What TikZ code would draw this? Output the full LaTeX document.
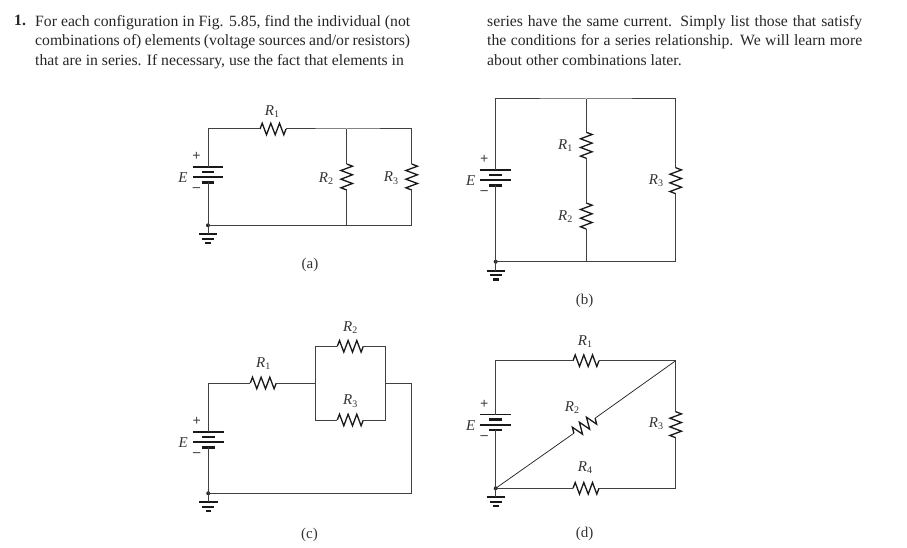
\documentclass[tikz,border=0pt]{standalone}
\usepackage{fontspec}
\setmainfont{Liberation Serif}
\newcommand{\resname}[1]{\textit{R}\raisebox{-2.4pt}{\fontsize{10}{10}\selectfont #1}}

\begin{document}
\begin{tikzpicture}[x=1pt, y=-1pt, inner sep=0pt]
        \tikzset{
            wire/.style={draw=black!75, line width=1pt},
            thinwire/.style={draw=black!85, line width=0.75pt},
            zig/.style={draw=black!90, line width=1.3pt, line join=miter},
            lab/.style={font=\fontsize{15}{17}\selectfont, text=black!80, yshift=-1.3pt},
            sign/.style={font=\fontsize{14.5}{15}\bfseries\selectfont, text=black!75},
            para/.style={anchor=north west, text width=375pt, align=justify, text=black!85,
                font=\fontsize{15.7}{19.6}\selectfont},
            dot/.style={circle, fill=black!85, minimum size=4pt},
            % resistor lying along x, 26 wide
            resistor/.pic={
                \coordinate (-a) at (-13,0);
                \coordinate (-b) at (13,0);
                \draw[zig] (-a) -- (-10.8,-5.8) -- (-6.5,5.8) -- (-2.2,-5.8) -- (2.2,5.8)
                    -- (6.5,-5.8) -- (10.8,5.8) -- (-b);
            },
            % battery, origin at the upper long plate
            battery/.pic={
                \coordinate (-p) at (0,0);
                \coordinate (-n) at (0,15.3);
                \draw[line width=1.5pt, draw=black!90] (-15.3,0) -- (15.3,0) (-15.3,10.2) -- (15.3,10.2);
                \draw[line width=2.5pt, draw=black!90] (-6.4,5) -- (6.4,5) (-6.4,15.3) -- (6.4,15.3);
                \node[sign] (-plus) at (-11.5,-10.3) {+};
                \node[sign] (-minus) at (-11.5,22.8) {--};
                \node[lab] (-emf) at (-25,9.2) {\textit{E}};
            },
            % ground, origin at the wire it hangs on
            earth/.pic={
                \coordinate (-t) at (0,9);
                \node[dot] (-j) at (0,0) {};
                \draw[line width=1.8pt, draw=black!90] (-9.2,9) -- (9.2,9);
                \draw[line width=2pt, draw=black!90] (-6,13.3) -- (6,13.3);
                \draw[line width=2.3pt, draw=black!90] (-2.8,17.7) -- (2.8,17.7);
            }
        }
        \useasboundingbox (0,0) rectangle (907,548);

        % problem text
        \node[font=\fontsize{15.7}{19.6}\bfseries\selectfont, text=black!85, anchor=north west] (num) at (14,15) {1.};
        \node[para] (col_l) at (35,15) {For each configuration in Fig. 5.85, find the individual (not\linebreak
            combinations of) elements (voltage sources and/or resistors)\linebreak
            that are in series. If necessary, use the fact that elements in};
        \node[para] (col_r) at (487,15) {series have the same current. Simply list those that satisfy\linebreak
            the conditions for a series relationship. We will learn more\linebreak
            about other combinations later.};

        % (a)
        \coordinate (a_tl) at (208,129);
        \coordinate (a_t2) at (346.7,129);
        \coordinate (a_t3) at (411.7,129);
        \coordinate (a_b2) at (346.7,225.3);
        \coordinate (a_b3) at (411.7,225.3);
        \pic (B_a) at (208,167) {battery};
        \pic (G_a) at (208,225.3) {earth};
        \pic (R_a1) at (273,129) {resistor};
        \pic[rotate=90] (R_a2) at (346.7,177) {resistor};
        \pic[rotate=90] (R_a3) at (411.7,177) {resistor};
        \draw[wire] (B_a-p) -- (a_tl) -- (R_a1-a);
        \draw[wire] (R_a1-b) -- (a_t2) -- (a_t3) -- (R_a3-b);
        \draw[wire] (a_t2) -- (R_a2-b);
        \draw[wire] (R_a2-a) -- (a_b2);
        \draw[wire] (R_a3-a) -- (a_b3) -- (G_a-j.center) -- (G_a-t);
        \draw[wire] (B_a-n) -- (G_a-j.center);
        \node[lab] (l_a1) at (272,110) {\resname{1}};
        \node[lab] (l_a2) at (326,177) {\resname{2}};
        \node[lab] (l_a3) at (391,177) {\resname{3}};
        \node[lab] (cap_a) at (310,263.5) {(a)};

        % (b)
        \coordinate (b_tl) at (495.7,99);
        \coordinate (b_tm) at (586.3,99);
        \coordinate (b_tr) at (675.7,99);
        \coordinate (b_bm) at (586.3,261.7);
        \coordinate (b_br) at (675.7,261.7);
        \pic (B_b) at (495.7,170) {battery};
        \pic (G_b) at (495.7,261.7) {earth};
        \pic[rotate=90] (R_b1) at (586.3,145.3) {resistor};
        \pic[rotate=90] (R_b2) at (586.3,216) {resistor};
        \pic[rotate=90] (R_b3) at (675.7,180.7) {resistor};
        \draw[wire] (B_b-p) -- (b_tl) -- (b_tm) -- (b_tr) -- (R_b3-b);
        \draw[wire] (b_tm) -- (R_b1-b);
        \draw[wire] (R_b1-a) -- (R_b2-b);
        \draw[wire] (R_b2-a) -- (b_bm);
        \draw[wire] (R_b3-a) -- (b_br) -- (G_b-j.center) -- (G_b-t);
        \draw[wire] (B_b-n) -- (G_b-j.center);
        \node[lab] (l_b1) at (565.3,144.5) {\resname{1}};
        \node[lab] (l_b2) at (565.3,215.5) {\resname{2}};
        \node[lab] (l_b3) at (656,179.5) {\resname{3}};
        \node[lab] (cap_b) at (584.7,300) {(b)};

        % (c)
        \coordinate (c_tl) at (208.3,383);
        \coordinate (c_pl) at (315.3,383);
        \coordinate (c_pr) at (385.3,383);
        \coordinate (c_tr) at (411.7,383);
        \coordinate (c_br) at (411.7,493.3);
        \coordinate (c_2l) at (315.3,346.3);
        \coordinate (c_2r) at (385.3,346.3);
        \coordinate (c_3l) at (315.3,420);
        \coordinate (c_3r) at (385.3,420);
        \pic (B_c) at (208.3,432) {battery};
        \pic (G_c) at (208.3,493.3) {earth};
        \pic (R_c1) at (263.3,383) {resistor};
        \pic (R_c2) at (350.3,346.3) {resistor};
        \pic (R_c3) at (350.3,420) {resistor};
        \draw[wire] (B_c-p) -- (c_tl) -- (R_c1-a);
        \draw[wire] (R_c1-b) -- (c_pl);
        \draw[wire] (R_c2-a) -- (c_2l) -- (c_3l) -- (R_c3-a);
        \draw[wire] (R_c2-b) -- (c_2r) -- (c_3r) -- (R_c3-b);
        \draw[wire] (c_pr) -- (c_tr) -- (c_br) -- (G_c-j.center) -- (G_c-t);
        \draw[wire] (B_c-n) -- (G_c-j.center);
        \node[lab] (l_c1) at (263.3,362.5) {\resname{1}};
        \node[lab] (l_c2) at (350.3,326) {\resname{2}};
        \node[lab] (l_c3) at (350.3,400) {\resname{3}};
        \node[lab] (cap_c) at (309.5,534) {(c)};

        % (d)
        \coordinate (d_tl) at (495.7,360.7);
        \coordinate (d_tr) at (675.7,360.7);
        \coordinate (d_br) at (675.7,488.3);
        \pic (B_d) at (495.7,414.7) {battery};
        \pic (G_d) at (495.7,488.3) {earth};
        \pic (R_d1) at (586,360.7) {resistor};
        \pic[rotate=35.3] (R_d2) at (584.5,425.7) {resistor};
        \pic[rotate=90] (R_d3) at (675.7,424.7) {resistor};
        \pic (R_d4) at (586,488.3) {resistor};
        \draw[wire] (B_d-p) -- (d_tl) -- (R_d1-a);
        \draw[wire] (R_d1-b) -- (d_tr) -- (R_d3-b);
        \draw[wire] (R_d3-a) -- (d_br) -- (R_d4-b);
        \draw[wire] (R_d4-a) -- (G_d-j.center) -- (G_d-t);
        \draw[wire] (B_d-n) -- (G_d-j.center);
        \draw[thinwire] (G_d-j.center) -- (R_d2-a);
        \draw[thinwire] (R_d2-b) -- (d_tr);
        \node[lab] (l_d1) at (585,340) {\resname{1}};
        \node[lab] (l_d2) at (572,406) {\resname{2}};
        \node[lab] (l_d3) at (656,422.5) {\resname{3}};
        \node[lab] (l_d4) at (585,466) {\resname{4}};
        \node[lab] (cap_d) at (584.7,533) {(d)};
    \end{tikzpicture}
\end{document}
